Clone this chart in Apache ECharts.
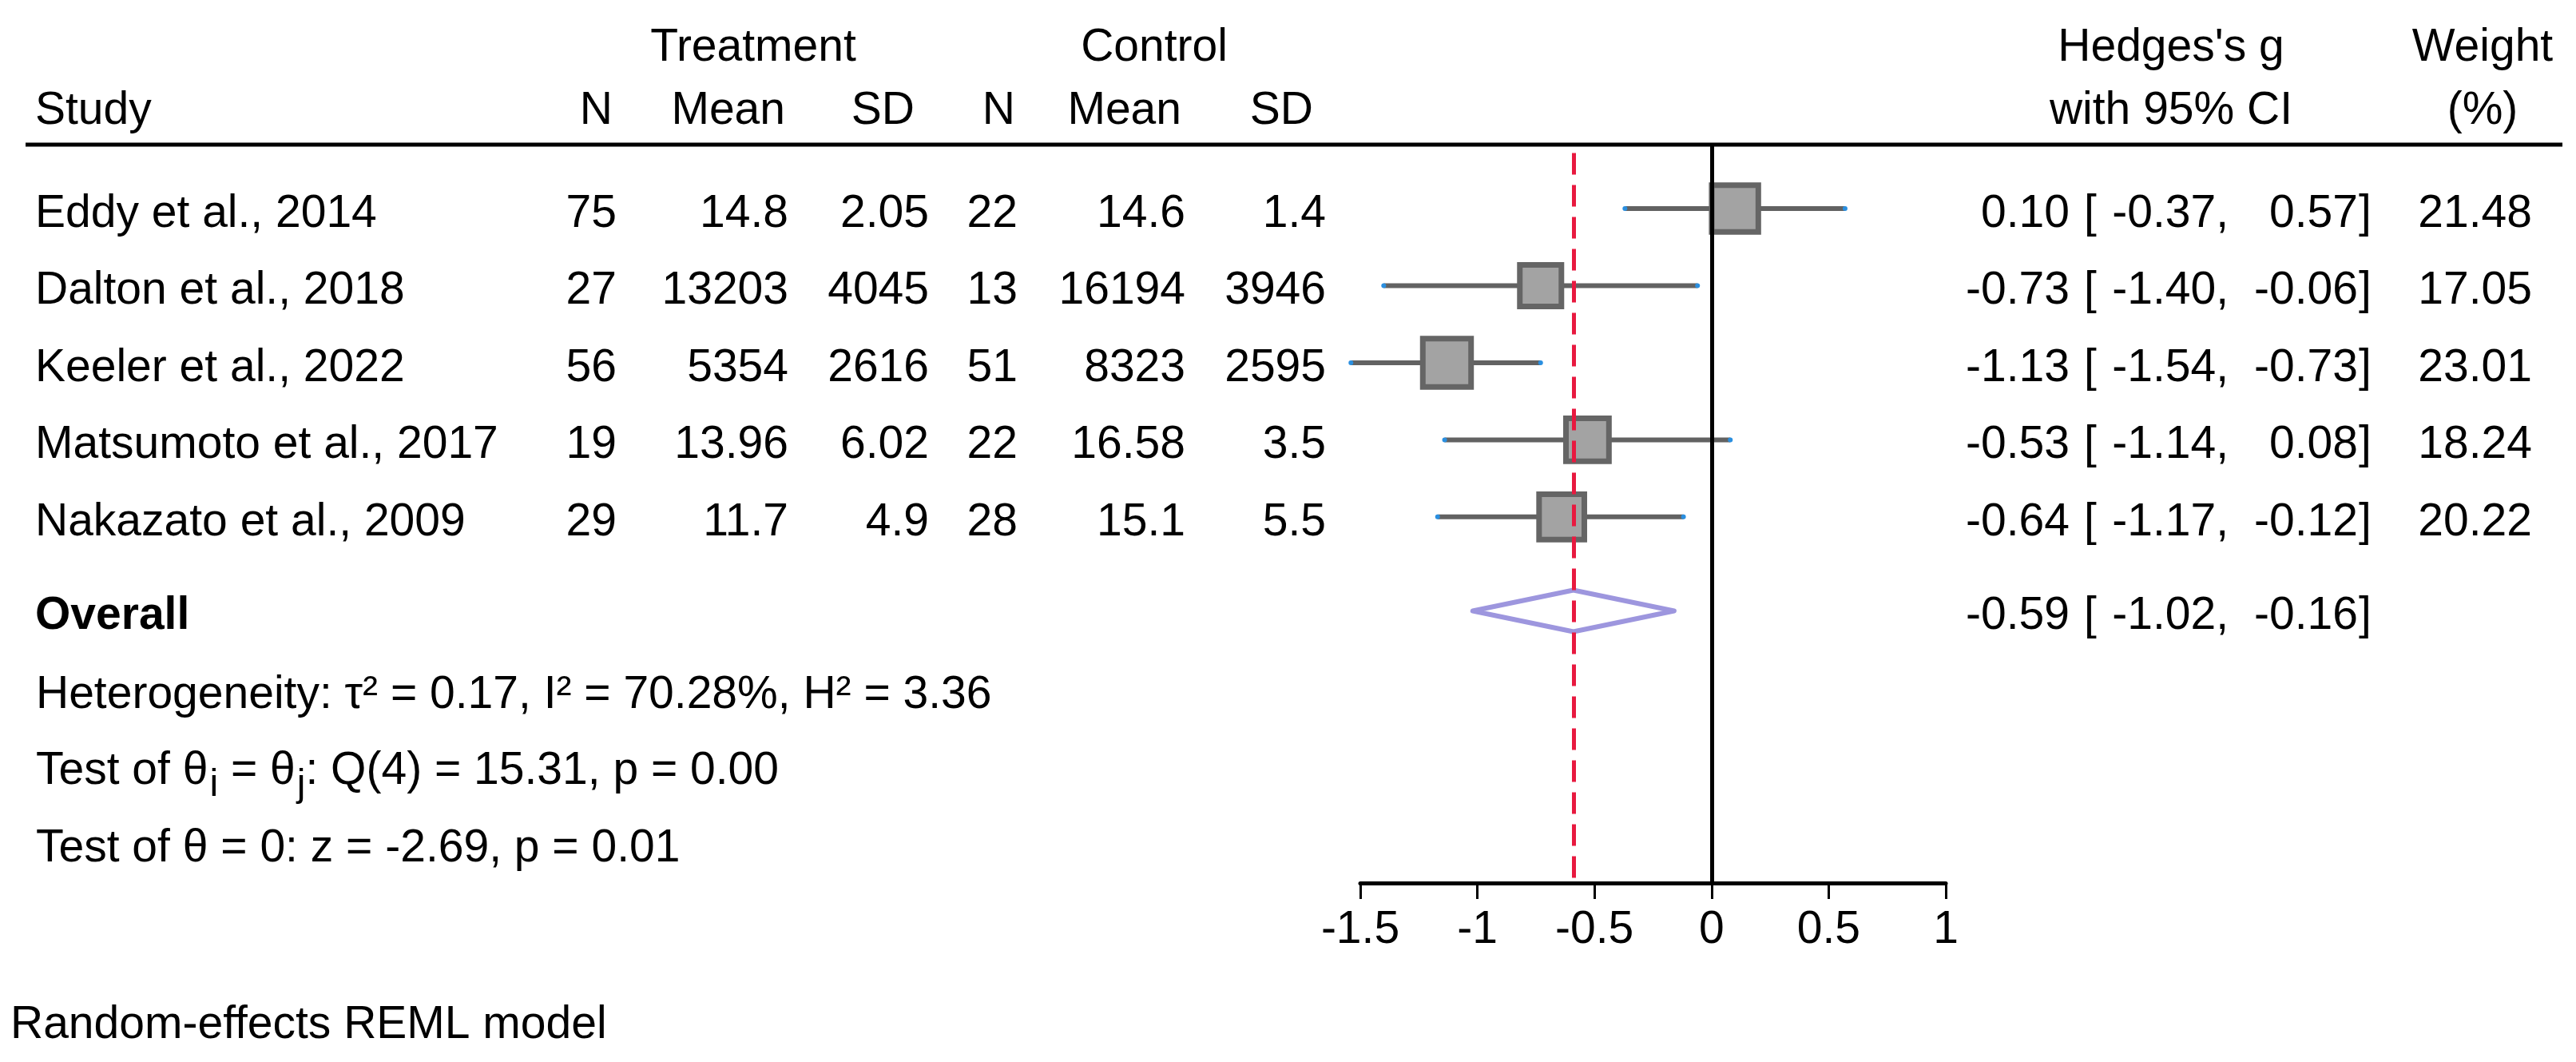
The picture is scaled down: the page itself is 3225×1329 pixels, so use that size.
<!DOCTYPE html>
<html>
<head>
<meta charset="utf-8">
<title>Forest plot</title>
<script src="https://cdn.jsdelivr.net/npm/echarts@6/dist/echarts.min.js"></script>
<style>
  html, body { margin: 0; padding: 0; background: #fff; }
  #forest { width: 3225px; height: 1329px; }
</style>
</head>
<body>
<div id="forest"></div>
<script>
// ---- data ----
var studies = ['Eddy et al., 2014', 'Dalton et al., 2018', 'Keeler et al., 2022',
               'Matsumoto et al., 2017', 'Nakazato et al., 2009'];
var nTreat = [75, 27, 56, 19, 29];
var meanTreat = [14.8, 13203, 5354, 13.96, 11.7];
var sdTreat = [2.05, 4045, 2616, 6.02, 4.9];
var nCtrl = [22, 13, 51, 22, 28];
var meanCtrl = [14.6, 16194, 8323, 16.58, 15.1];
var sdCtrl = [1.4, 3946, 2595, 3.5, 5.5];
var g = [0.10, -0.73, -1.13, -0.53, -0.64];
var ciLow = [-0.37, -1.40, -1.54, -1.14, -1.17];
var ciHigh = [0.57, -0.06, -0.73, 0.08, -0.12];
var weight = [21.48, 17.05, 23.01, 18.24, 20.22];
var overall = [-0.59, -1.02, -0.16];   // g, low, high
var xTicks = { min: -1.5, max: 1, step: 0.5 };

var FONT = 'Liberation Sans';
var FS = 57;
var BOX_K = 12.6;        // box side per sqrt(weight)
var OVERALL_ROW = 6.22;  // overall sits a little below the study rows
var DY = 4;              // nudge so caps centre on the row

var chart = echarts.init(document.getElementById('forest'));

var studyData = studies.map(function (s, i) {
  return [g[i], i + 1, ciLow[i], ciHigh[i], weight[i]];
});

function renderStudy(params, api) {
  var y = api.value(1);
  var pLo = api.coord([api.value(2), y]);
  var pHi = api.coord([api.value(3), y]);
  var pG = api.coord([api.value(0), y]);
  var side = BOX_K * Math.sqrt(api.value(4));
  return {
    type: 'group',
    children: [
      { type: 'line', shape: { x1: pLo[0], y1: pLo[1], x2: pHi[0], y2: pHi[1] },
        style: { stroke: '#626262', lineWidth: 6 } },
      { type: 'circle', shape: { cx: pLo[0], cy: pLo[1], r: 3 }, style: { fill: '#2a8fe0' } },
      { type: 'circle', shape: { cx: pHi[0], cy: pHi[1], r: 3 }, style: { fill: '#2a8fe0' } },
      { type: 'rect', shape: { x: pG[0] - side / 2, y: pG[1] - side / 2, width: side, height: side },
        style: { fill: '#a3a3a3', stroke: '#656565', lineWidth: 7 } }
    ]
  };
}

function renderDiamond(params, api) {
  var y = api.value(1);
  var pG = api.coord([api.value(0), y]);
  var pLo = api.coord([api.value(2), y]);
  var pHi = api.coord([api.value(3), y]);
  var h = 26;
  return {
    type: 'polygon',
    shape: { points: [[pLo[0], pG[1]], [pG[0], pG[1] - h], [pHi[0], pG[1]], [pG[0], pG[1] + h]] },
    style: { fill: 'none', stroke: '#9d96de', lineWidth: 6, lineJoin: 'round' }
  };
}

chart.setOption({
  animation: false,
  backgroundColor: '#fff',
  grid: { left: 1703, right: 789, top: 181, bottom: 224 },
  xAxis: {
    type: 'value',
    min: xTicks.min,
    max: xTicks.max,
    interval: xTicks.step,
    axisLine: { onZero: false, lineStyle: { color: '#000', width: 5 } },
    axisTick: { length: 20, lineStyle: { color: '#000', width: 3 } },
    axisLabel: { fontSize: FS, fontFamily: FONT, color: '#000', margin: 31 },
    splitLine: { show: false }
  },
  yAxis: { type: 'value', inverse: true, min: 0.17, max: 9.75, show: false },
  series: [
    {
      type: 'line',
      data: [],
      z: 1,
      markLine: {
        silent: true,
        symbol: 'none',
        label: { show: false },
        data: [
          { xAxis: 0, lineStyle: { color: '#000', width: 5, type: 'solid' } },
          [{ coord: [overall[0], 0.28], lineStyle: { color: '#e8193f', width: 5, type: [27, 13] } },
           { coord: [overall[0], 9.75] }]
        ]
      }
    },
    { type: 'custom', renderItem: renderStudy, data: studyData, clip: false, z: 3 },
    { type: 'custom', renderItem: renderDiamond,
      data: [[overall[0], OVERALL_ROW, overall[1], overall[2]]], clip: false, z: 3 }
  ]
});

// ---- table text ----
var ctx = document.createElement('canvas').getContext('2d');
function textWidth(s, size) {
  ctx.font = size + 'px "' + FONT + '"';
  return ctx.measureText(s).width;
}

var items = [];
function txt(x, y, s, align, opts) {
  opts = opts || {};
  items.push({
    type: 'text', x: x, y: y + DY, silent: true,
    style: {
      text: s, fill: '#000', fontFamily: FONT, fontSize: opts.size || FS,
      fontWeight: opts.bold ? 'bold' : 'normal',
      align: align || 'left', verticalAlign: 'middle'
    }
  });
}

// headers
txt(943, 56, 'Treatment', 'center');
txt(1445, 56, 'Control', 'center');
txt(2718, 56, "Hedges's g", 'center');
txt(3108, 56, 'Weight', 'center');
txt(44, 135, 'Study', 'left');
txt(767, 135, 'N', 'right');
txt(983, 135, 'Mean', 'right');
txt(1145, 135, 'SD', 'right');
txt(1271, 135, 'N', 'right');
txt(1479, 135, 'Mean', 'right');
txt(1644, 135, 'SD', 'right');
txt(2718, 135, 'with 95% CI', 'center');
txt(3108, 135, '(%)', 'center');

items.push({ type: 'line', silent: true, shape: { x1: 32, y1: 181, x2: 3208, y2: 181 },
  style: { stroke: '#000', lineWidth: 5 } });

function ciText(y, est, lo, hi) {
  txt(2591, y, est.toFixed(2), 'right');
  txt(2609, y, '[', 'left');
  txt(2790, y, lo.toFixed(2) + ',', 'right');
  txt(2952, y, hi.toFixed(2), 'right');
  txt(2953, y, ']', 'left');
}

studies.forEach(function (s, i) {
  var y = chart.convertToPixel({ yAxisIndex: 0 }, i + 1) + 3;
  txt(44, y, s, 'left');
  txt(772, y, String(nTreat[i]), 'right');
  txt(987, y, String(meanTreat[i]), 'right');
  txt(1163, y, String(sdTreat[i]), 'right');
  txt(1274, y, String(nCtrl[i]), 'right');
  txt(1484, y, String(meanCtrl[i]), 'right');
  txt(1660, y, String(sdCtrl[i]), 'right');
  ciText(y, g[i], ciLow[i], ciHigh[i]);
  txt(3170, y, weight[i].toFixed(2), 'right');
});

var yOverall = chart.convertToPixel({ yAxisIndex: 0 }, OVERALL_ROW) + 3;
txt(44, yOverall, 'Overall', 'left', { bold: true });
ciText(yOverall, overall[0], overall[1], overall[2]);

txt(45, 866, 'Heterogeneity: \u03c4\u00b2 = 0.17, I\u00b2 = 70.28%, H\u00b2 = 3.36', 'left');

// line with subscripts, pieces laid out by measured widths
var SUB = 48;
var pieces = [['Test of \u03b8', 0], ['i', 1], [' = \u03b8', 0], ['j', 1], [': Q(4) = 15.31, p = 0.00', 0]];
var px = 45;
pieces.forEach(function (p) {
  if (p[1]) {
    txt(px + 2, 961 + 18, p[0], 'left', { size: SUB });
    px += textWidth(p[0], SUB) + 2;
  } else {
    txt(px, 961, p[0], 'left');
    px += textWidth(p[0], FS);
  }
});

txt(45, 1058, 'Test of \u03b8 = 0: z = -2.69, p = 0.01', 'left');
txt(13, 1279, 'Random-effects REML model', 'left');

chart.setOption({ graphic: items });
</script>
</body>
</html>
